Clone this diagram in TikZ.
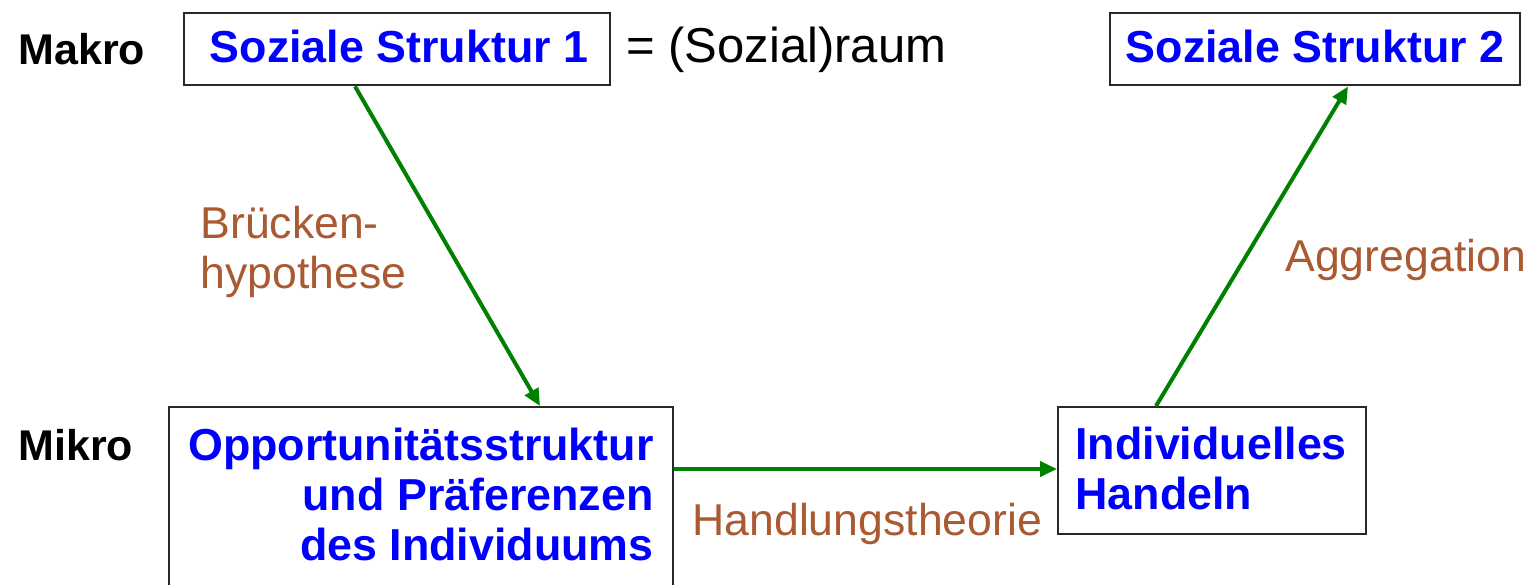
\documentclass[tikz,border=0pt]{standalone}
\usepackage{fontspec}
\setmainfont{Liberation Sans}
\usetikzlibrary{arrows.meta}
\definecolor{arrgreen}{RGB}{0,128,0}
\definecolor{boxblue}{RGB}{0,0,255}
\definecolor{labbrown}{RGB}{170,90,50}
\definecolor{boxline}{RGB}{40,40,40}
\tikzset{
  box/.style={draw=boxline, line width=1.2pt, anchor=north west, inner sep=0pt, fill=white},
  boxtext/.style={text=boxblue, font=\fontsize{22.4pt}{25pt}\selectfont\bfseries, inner sep=0pt},
  level/.style={font=\fontsize{21.5pt}{25pt}\selectfont\bfseries, inner sep=0pt, anchor=base west},
  lab/.style={text=labbrown, font=\fontsize{22.3pt}{25pt}\selectfont, inner sep=0pt},
  arr/.style={draw=arrgreen, line width=2pt, -{Triangle[length=8.5pt,width=7.5pt]}}
}
\begin{document}
\begin{tikzpicture}[x=0.5pt,y=-0.5pt]
\useasboundingbox (0,0) rectangle (1534,584);
% boxes
\node[box, minimum width=213pt, minimum height=36pt] (b1) at (183,12) {};
\node[box, minimum width=205pt, minimum height=36pt] (b2) at (1109,12) {};
\node[box, minimum width=252pt, minimum height=100pt] (b3) at (168,406) {};
\node[box, minimum width=154pt, minimum height=63.5pt] (b4) at (1057,406) {};
% box texts
\node[boxtext, anchor=base] (t1) at (399,62) {Soziale Struktur 1};
\node[boxtext, anchor=base] (t2) at (1315,62) {Soziale Struktur 2};
\node[boxtext, anchor=north east, align=right] (t3) at (654,428) {Opportunitätsstruktur\\und Präferenzen\\des Individuums};
\node[boxtext, anchor=north west, align=left] (t4) at (1075,427) {Individuelles\\Handeln};
% level labels
\node[level] (makro) at (18,64) {Makro};
\node[level] (mikro) at (18,460) {Mikro};
\node[inner sep=0pt, anchor=base west, font=\fontsize{24.5pt}{27pt}\selectfont] (raum) at (626,62) {= (Sozial)raum};
% connector labels
\node[lab, anchor=north west, align=left] (lbr) at (200,206) {Brücken-\\hypothese};
\node[lab, anchor=base west] (lag) at (1285,271) {Aggregation};
\node[lab, anchor=base west] (lha) at (692,535) {Handlungstheorie};
% connectors
\draw[arr] ([xshift=86pt]b1.south west) -- ([xshift=186pt]b3.north west);
\draw[arr] ([xshift=49.5pt]b4.north west) -- ([xshift=119.5pt]b2.south west);
\draw[arr] ([yshift=-31.5pt]b3.north east) -- ([yshift=-31.5pt]b4.north west);
\end{tikzpicture}
\end{document}
